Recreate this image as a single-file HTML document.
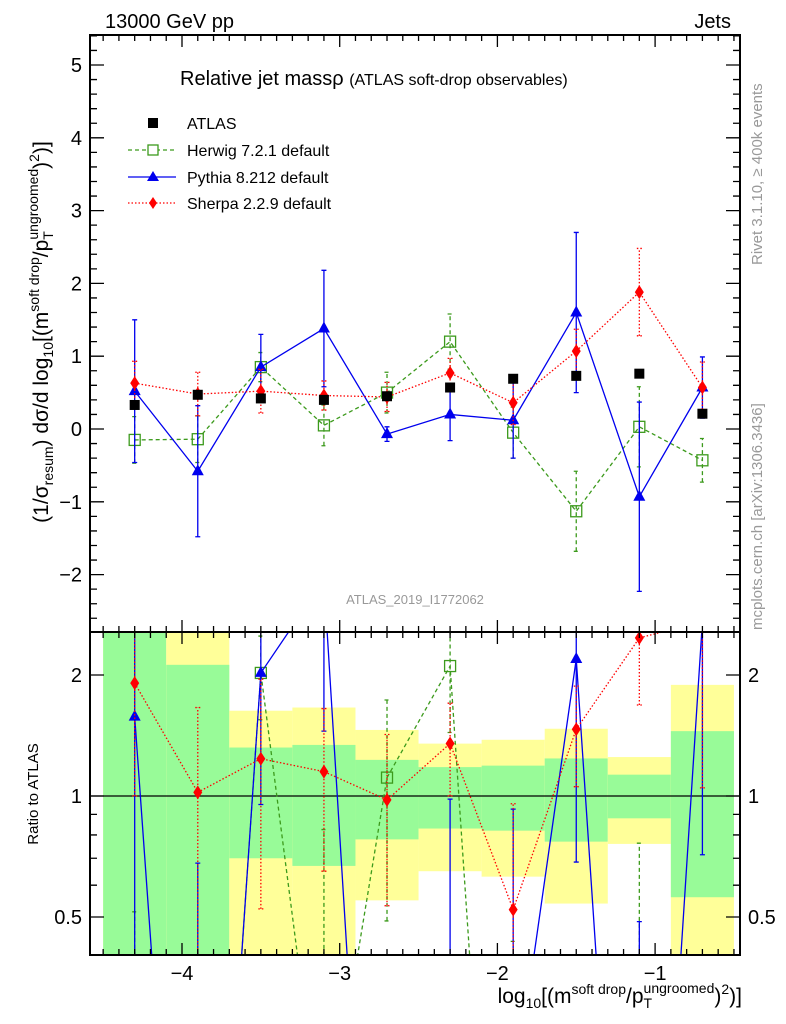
<!DOCTYPE html>
<html><head><meta charset="utf-8"><style>
body{margin:0;background:#fff;overflow:hidden;}
svg{display:block;font-family:"Liberation Sans",sans-serif;}
</style></head><body>
<svg id="chart" width="786" height="1024" viewBox="0 0 786 1024">
<text x="105" y="28" font-size="20">13000 GeV pp</text>
<text x="731" y="28" font-size="20" text-anchor="end">Jets</text>
<text transform="translate(762,265) rotate(-90)" font-size="15" fill="#999">Rivet 3.1.10, ≥ 400k events</text>
<text transform="translate(762,630) rotate(-90)" font-size="15" fill="#999">mcplots.cern.ch [arXiv:1306.3436]</text>
<text x="180" y="85" font-size="20">Relative jet massρ <tspan font-size="16">(ATLAS soft-drop observables)</tspan></text>
<text x="415" y="604" font-size="13" fill="#999" text-anchor="middle">ATLAS_2019_I1772062</text>
<text transform="translate(48,332) rotate(-90)" font-size="21" text-anchor="middle">(1/σ<tspan font-size="14" dy="5">resum</tspan><tspan dy="-5">) dσ/d log</tspan><tspan font-size="14" dy="5">10</tspan><tspan dy="-5">[(m</tspan><tspan font-size="14" dy="-9">soft drop</tspan><tspan dy="9">/p</tspan><tspan font-size="14" dy="5">T</tspan><tspan font-size="14" dx="-8" dy="-15">ungroomed</tspan><tspan dy="10">)</tspan><tspan font-size="14" dy="-9">2</tspan><tspan dy="9">)]</tspan></text>
<text transform="translate(38,794) rotate(-90)" font-size="15" text-anchor="middle">Ratio to ATLAS</text>
<text x="742" y="1003" font-size="21" text-anchor="end">log<tspan font-size="14" dy="5">10</tspan><tspan dy="-5">[(m</tspan><tspan font-size="14" dy="-9">soft drop</tspan><tspan dy="9">/p</tspan><tspan font-size="14" dy="5">T</tspan><tspan font-size="14" dx="-8" dy="-15">ungroomed</tspan><tspan dy="10">)</tspan><tspan font-size="14" dy="-9">2</tspan><tspan dy="9">)]</tspan></text>
<g id="legend">
<g><rect x="148" y="118" width="10" height="10" fill="#000"/><text x="187" y="129" font-size="16">ATLAS</text></g>
<g><line x1="128" y1="150" x2="176" y2="150" stroke="#3c9a1c" stroke-dasharray="4,3" stroke-width="1.3"/><rect x="148" y="145" width="10" height="10" fill="#fff" stroke="#3c9a1c" stroke-width="1.3"/><text x="187" y="156" font-size="16">Herwig 7.2.1 default</text></g>
<g><line x1="128" y1="177" x2="176" y2="177" stroke="#0000ee" stroke-width="1.3"/><polygon points="153,171 159,181 147,181" fill="#0000ee"/><text x="187" y="183" font-size="16">Pythia 8.212 default</text></g>
<g><line x1="128" y1="203" x2="176" y2="203" stroke="#ff0000" stroke-dasharray="1.5,2" stroke-width="1.3"/><polygon points="153,197 157,203 153,209 149,203" fill="#ff0000"/><text x="187" y="209" font-size="16">Sherpa 2.2.9 default</text></g>
</g>
<defs>
<clipPath id="mainClip"><rect x="90" y="35" width="650" height="597"/></clipPath>
<clipPath id="ratioClip"><rect x="90" y="632" width="650" height="323"/></clipPath>
</defs>
<g id="ratioBands" clip-path="url(#ratioClip)"></g>
<g id="plots"></g>
<g id="axes"></g>
</svg>
<script>
const binCenters=[-4.3,-3.9,-3.5,-3.1,-2.7,-2.3,-1.9,-1.5,-1.1,-0.7];
const binHalf=0.2;
const atlasVals=[0.33,0.47,0.42,0.40,0.45,0.57,0.69,0.73,0.76,0.21];
const herwigVals=[-0.15,-0.14,0.85,0.05,0.50,1.20,-0.05,-1.13,0.03,-0.43];
const herwigErr=[0.32,0.32,0.2,0.28,0.28,0.38,0.35,0.55,0.55,0.3];
const pythiaVals=[0.52,-0.58,0.85,1.38,-0.07,0.20,0.12,1.60,-0.93,0.57];
const pythiaErr=[0.98,0.9,0.45,0.8,0.1,0.36,0.52,1.1,1.3,0.42];
const sherpaVals=[0.63,0.48,0.52,0.46,0.44,0.77,0.36,1.07,1.88,0.57];
const sherpaErr=[0.3,0.3,0.3,0.2,0.2,0.2,0.3,0.3,0.6,0.35];
const bandGreenHi=[2.8,2.12,1.32,1.34,1.23,1.18,1.19,1.24,1.13,1.45];
const bandGreenLo=[0.3,0.3,0.70,0.67,0.78,0.83,0.82,0.77,0.88,0.56];
const bandYellowHi=[2.8,2.8,1.63,1.66,1.46,1.35,1.38,1.47,1.25,1.89];
const bandYellowLo=[0.3,0.3,0.3,0.3,0.55,0.65,0.63,0.54,0.76,0.3];
const xTicks=[-4,-3,-2,-1];
const yTicks=[-2,-1,0,1,2,3,4,5];
const rTicks=[0.5,1,2];

const NS='http://www.w3.org/2000/svg';
const X=v=>182+(v+4)*157.7;
const Y=v=>429-v*72.8;
const Rlog=r=>796-Math.log2(Math.max(r,0.01))*121;
const L=90,Rt=740,T=35,M=632,B=955;
function mk(tag,attrs,parent){const e=document.createElementNS(NS,tag);for(const k in attrs)e.setAttribute(k,attrs[k]);parent.appendChild(e);return e;}
const bands=document.getElementById('ratioBands');
const plots=document.getElementById('plots');
const axes=document.getElementById('axes');

binCenters.forEach((c,i)=>{
  let e=mk('rect',{x:X(c-binHalf),y:Rlog(bandYellowHi[i]),width:X(c+binHalf)-X(c-binHalf),height:Rlog(bandYellowLo[i])-Rlog(bandYellowHi[i]),fill:'#ffff99'},bands);
  
  
  e=mk('rect',{x:X(c-binHalf),y:Rlog(bandGreenHi[i]),width:X(c+binHalf)-X(c-binHalf),height:Rlog(bandGreenLo[i])-Rlog(bandGreenHi[i]),fill:'#98fb98'},bands);
  
  
});
let ln=mk('line',{x1:L,x2:Rt,y1:Rlog(1),y2:Rlog(1),stroke:'#000','stroke-width':1.3},bands);



function marker(type,x,y,col,g){
  if(type==='sq')return mk('rect',{x:x-5,y:y-5,width:10,height:10,fill:'#000'},g);
  if(type==='osq')return mk('rect',{x:x-5.5,y:y-5.5,width:11,height:11,fill:'none',stroke:col,'stroke-width':1.3},g);
  if(type==='tri')return mk('polygon',{points:`${x},${y-7} ${x+6},${y+4} ${x-6},${y+4}`,fill:col},g);
  return mk('polygon',{points:`${x},${y-7} ${x+4.5},${y} ${x},${y+7} ${x-4.5},${y}`,fill:col},g);
}
function series(name,vals,lo,hi,col,dash,type,clip,ys){
  const g=mk('g',{'clip-path':`url(#${clip})`},plots);
  
  
  const pts=vals.map((v,i)=>[X(binCenters[i]),ys(v)]);
  if(dash!==null){
    const p=mk('polyline',{points:pts.map(p=>p.join(',')).join(' '),fill:'none',stroke:col,'stroke-width':1.3},g);
    if(dash)p.setAttribute('stroke-dasharray',dash);
  }
  vals.forEach((v,i)=>{
    const x=pts[i][0];
    if(lo){
      const a=ys(lo[i]),b=ys(hi[i]);
      const eb=mk('path',{d:`M${x},${a}V${b}M${x-2.5},${a}H${x+2.5}M${x-2.5},${b}H${x+2.5}`,stroke:col,'stroke-width':1.3,fill:'none'},g);
      if(dash)eb.setAttribute('stroke-dasharray',dash);
    }
    const m=marker(type,x,pts[i][1],col,g);
    
    
  });
}
const hc='#3c9a1c',pc='#0000ee',sc='#ff0000';
function mainSeries(name,vals,errs,col,dash,type){
  series(name,vals,vals.map((v,i)=>v-errs[i]),vals.map((v,i)=>v+errs[i]),col,dash,type,'mainClip',Y);
}
mainSeries('herwig-series',herwigVals,herwigErr,hc,'4,3','osq');
mainSeries('pythia-series',pythiaVals,pythiaErr,pc,'','tri');
mainSeries('sherpa-series',sherpaVals,sherpaErr,sc,'1.5,2','dia');
series('atlas-series',atlasVals,null,null,'#000',null,'sq','mainClip',Y);
function ratioSeries(name,vals,errs,col,dash,type){
  const rv=vals.map((v,i)=>v/atlasVals[i]);
  const lo=vals.map((v,i)=>(v-errs[i])/atlasVals[i]);
  const hi=vals.map((v,i)=>(v+errs[i])/atlasVals[i]);
  series(name,rv,lo,hi,col,dash,type,'ratioClip',Rlog);
}
ratioSeries('herwig-ratio',herwigVals,herwigErr,hc,'4,3','osq');
ratioSeries('pythia-ratio',pythiaVals,pythiaErr,pc,'','tri');
ratioSeries('sherpa-ratio',sherpaVals,sherpaErr,sc,'1.5,2','dia');

[[T,M],[M,B]].forEach(([a,b],k)=>{
  const f=mk('rect',{x:L,y:a,width:Rt-L,height:b-a,fill:'none',stroke:'#000','stroke-width':2},axes);
  
  
});
let d='';
for(let v=-4.5;v<=-0.45;v+=0.1){
  const x=X(v);const major=xTicks.some(t=>Math.abs(t-v)<1e-6);const len=major?12:6;
  d+=`M${x},${T}v${len}M${x},${M}v${-len}M${x},${M}v${len}M${x},${B}v${-len}`;
}
for(let v=-2.8;v<=5.41;v+=0.2){
  const y=Y(v);if(y<T||y>M)continue;const major=Math.abs(v-Math.round(v))<1e-6;const len=major?14:7;
  d+=`M${L},${y}h${len}M${Rt},${y}h${-len}`;
}
[0.5,0.6,0.7,0.8,0.9,1,2].forEach(r=>{const y=Rlog(r);const len=rTicks.includes(r)?14:7;d+=`M${L},${y}h${len}M${Rt},${y}h${-len}`;});
mk('path',{d:d,stroke:'#000','stroke-width':1.3,fill:'none'},axes);
xTicks.forEach(t=>{const e=mk('text',{x:X(t),y:980,'font-size':20,'text-anchor':'middle'},axes);e.textContent='−'+Math.abs(t);
  
  });
yTicks.forEach(t=>{const e=mk('text',{x:82,y:Y(t)+7,'font-size':20,'text-anchor':'end'},axes);e.textContent=t<0?'−'+Math.abs(t):t;
  
  });
rTicks.forEach(t=>{[[82,'end'],[748,'start']].forEach(([x,a])=>{const e=mk('text',{x:x,y:Rlog(t)+7,'font-size':20,'text-anchor':a},axes);e.textContent=t;
  
  });});
</script>
</body></html>
